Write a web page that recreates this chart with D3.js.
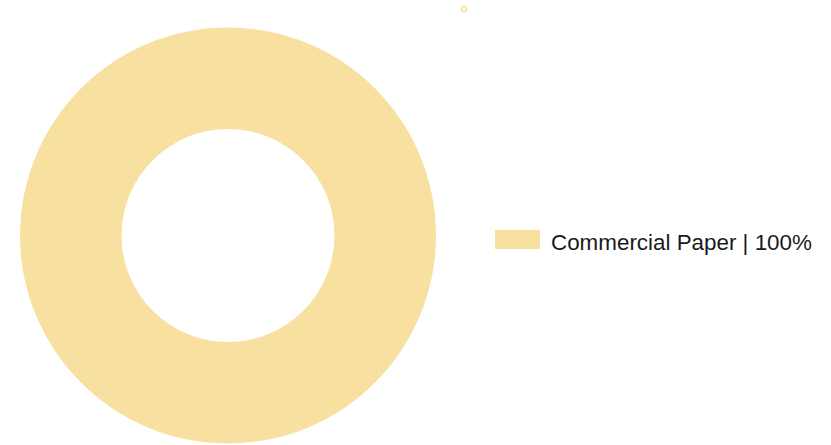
<!DOCTYPE html>
<html><head><meta charset="utf-8">
<script src="https://cdn.jsdelivr.net/npm/d3@7"></script>
<style>body{margin:0;background:#fff}svg{display:block}</style>
</head><body>
<svg id="c" width="831" height="445"></svg>
<script>
const categories = ["Commercial Paper"];
const values = [100];
const colors = ["#f8e0a0"];

const svg = d3.select("#c");
const cx = 228, cy = 235.5, rOuter = 208, rInner = 106.5;
const pie = d3.pie().sort(null).value(d => d.v);
const arc = d3.arc().innerRadius(rInner).outerRadius(rOuter);
const data = categories.map((c, i) => ({c, v: values[i], col: colors[i]}));
const g = svg.append("g").attr("transform", `translate(${cx},${cy})`);
g.selectAll("path").data(pie(data)).join("path")
  .attr("d", arc).attr("fill", d => d.data.col);

// small marker at top
svg.append("circle").attr("cx", 464).attr("cy", 9).attr("r", 2.7)
  .attr("fill", "#fff").attr("stroke", "#f7d68c").attr("stroke-width", 1.2);

const leg = svg.append("g").attr("transform", "translate(495,230)");
const item = leg.selectAll("g").data(data).join("g")
  .attr("transform", (d, i) => `translate(0,${i * 30})`);
item.append("rect").attr("width", 45).attr("height", 19).attr("fill", d => d.col);
item.append("text").attr("x", 56).attr("y", 19.8)
  .style("font-family", "'Liberation Sans', Arial, sans-serif").attr("font-size", 22.4)
  .attr("fill", "#1a1a1a")
  .text(d => `${d.c} | ${d.v}%`);
</script>
</body></html>
